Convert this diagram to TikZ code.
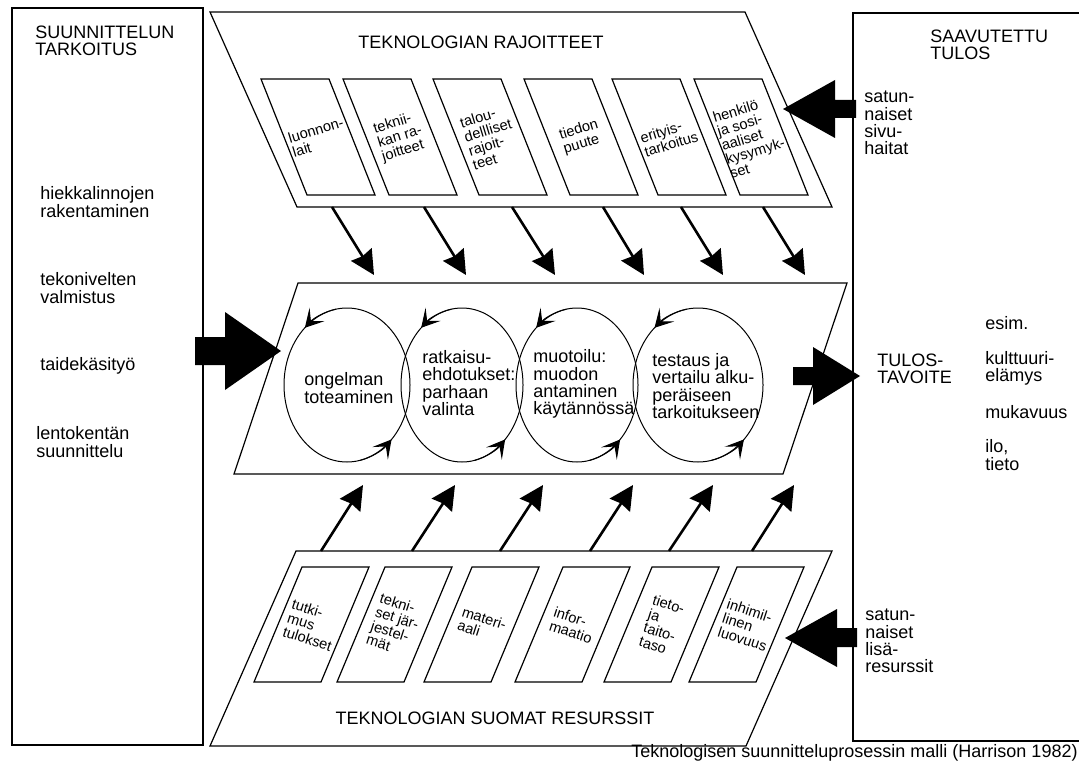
\documentclass[tikz,border=0pt]{standalone}
\usepackage{fontspec}
\setmainfont{Liberation Sans}
\usetikzlibrary{arrows.meta,positioning,calc}

\tikzset{
  frame/.style={line width=0.6pt},
  cell/.style={font=\fontsize{7.3}{7.3}\selectfont, align=left, inner sep=0pt},
  label/.style={font=\fontsize{9}{8.6}\selectfont, align=left, inner sep=0pt, anchor=west},
  flow/.style={line width=1.3pt, -{Stealth[length=12pt,width=12pt,inset=1pt]}},
  looptip/.style={line width=0.5pt, -{Stealth[length=9pt,width=10pt,inset=4.5pt]}}
}

\begin{document}
\begin{tikzpicture}[x=0.5pt,y=0.5pt]
    \useasboundingbox (0,0) rectangle (1079,762);

    % Side frames
    \draw[frame] (12,17) rectangle (203,754);
    \draw[frame] (1079,749) -- (853,749) -- (853,21) -- (1079,21);

    % Three parallelograms
    \draw[frame] (210,750) -- (745,750) -- (832,555) -- (297,555) -- cycle;
    \draw[frame] (298,479) -- (847,479) -- (783,288) -- (234,288) -- cycle;
    \draw[frame] (296,211) -- (832,211) -- (746,16) -- (210,16) -- cycle;

    \node[label, anchor=center] (limits) at (481,720) {TEKNOLOGIAN RAJOITTEET};
    \node[label, anchor=center] (resources) at (495,44) {TEKNOLOGIAN SUOMAT RESURSSIT};

    % Limitation cells
    \foreach \x/\txt [count=\i] in {261/{luonnon-\\lait}, 343/{teknii-\\kan ra-\\joitteet},
        433/{talou-\\dellliset\\rajoit-\\teet}, 524/{tiedon\\puute},
        612/{erityis-\\tarkoitus}, 694/{henkilö\\ja sosi-\\aaliset\\kysymyk-\\set}} {
        \draw[frame] (\x,683) -- ++(68,0) -- ++(46,-116) -- ++(-68,0) -- cycle;
        \node[cell, rotate=17] (lim\i) at (\x+57,625) {\txt};
    }

    % Resource cells
    \foreach \x/\txt [count=\i] in {302/{tutki-\\mus\\tulokset}, 385/{tekni-\\set jär-\\jestel-\\mät},
        472/{materi-\\aali}, 563/{infor-\\maatio},
        652/{tieto-\\ja\\taito-\\taso}, 737/{inhimil-\\linen\\luovuus}} {
        \draw[frame] (\x,195) -- ++(67,0) -- ++(-48,-115) -- ++(-67,0) -- cycle;
        \node[cell, rotate=-18] (res\i) at (\x+10,137) {\txt};
    }

    % Arrows down into the process
    \foreach \a/\b [count=\i] in {332/374, 424/466, 512/555, 603/644, 681/723, 763/805} {
        \coordinate (ds\i) at (\a,555);
        \coordinate (de\i) at (\b,487);
        \draw[flow] (ds\i) -- (de\i);
    }

    % Arrows up into the process
    \foreach \a/\b [count=\i] in {321/363, 412/455, 500/543, 590/633, 669/713, 752/794} {
        \coordinate (us\i) at (\a,211);
        \coordinate (ue\i) at (\b,277);
        \draw[flow] (us\i) -- (ue\i);
    }

    % Process cycles
    \foreach \cx/\rx [count=\i] in {347/63, 462/61, 577/61, 698/65} {
        \coordinate (c\i) at (\cx,377);
        \draw[line width=0.5pt] (c\i) ellipse [x radius=\rx, y radius=77];
        \draw[looptip] ($(c\i)+({\rx*cos(100)},{77*sin(100)})$) arc[start angle=100, end angle=132, x radius=\rx, y radius=77];
        \draw[looptip] ($(c\i)+({\rx*cos(-78)},{77*sin(-78)})$) arc[start angle=-78, end angle=-45, x radius=\rx, y radius=77];
    }
    \node[label] (step1) at (304,374) {ongelman\\toteaminen};
    \node[label] (step2) at (422,379) {ratkaisu-\\ehdotukset:\\parhaan\\valinta};
    \node[label] (step3) at (533,378) {muotoilu:\\muodon\\antaminen\\käytännössä};
    \node[label] (step4) at (652,376) {testaus ja\\vertailu alku-\\peräiseen\\tarkoitukseen};

    % Block arrows
    \fill (195,397) -- (225,397) -- (225,372) -- (281,411) -- (225,450) -- (225,425) -- (195,425) -- cycle;
    \fill (793,377) -- (813,377) -- (813,357) -- (860,386) -- (813,415) -- (813,395) -- (793,395) -- cycle;
    \fill (856,644) -- (835,644) -- (835,624) -- (783,653) -- (835,682) -- (835,662) -- (856,662) -- cycle;
    \fill (857,115) -- (837,115) -- (837,95) -- (785,124) -- (837,153) -- (837,134) -- (857,134) -- cycle;

    % Left column
    \node[label] (purpose) at (35,721) {SUUNNITTELUN\\TARKOITUS};
    \node[label] (ex1) at (40,560) {hiekkalinnojen\\rakentaminen};
    \node[label] (ex2) at (40,474) {tekonivelten\\valmistus};
    \node[label] (ex3) at (40,396) {taidekäsityö};
    \node[label] (ex4) at (36,320) {lentokentän\\suunnittelu};

    % Right column
    \node[label] (result) at (930,717) {SAAVUTETTU\\TULOS};
    \node[label] (harm) at (864,639) {satun-\\naiset\\sivu-\\haitat};
    \node[label] (goal) at (877,393) {TULOS-\\TAVOITE};
    \node[label] (eg) at (985,439) {esim.};
    \node[label] (g1) at (985,394) {kulttuuri-\\elämys};
    \node[label] (g2) at (985,350) {mukavuus};
    \node[label] (g3) at (985,307) {ilo,\\tieto};
    \node[label] (extra) at (865,121) {satun-\\naiset\\lisä-\\resurssit};

    \node[label, anchor=base east] (caption) at (1078,5) {Teknologisen suunnitteluprosessin malli (Harrison 1982)};
\end{tikzpicture}
\end{document}
